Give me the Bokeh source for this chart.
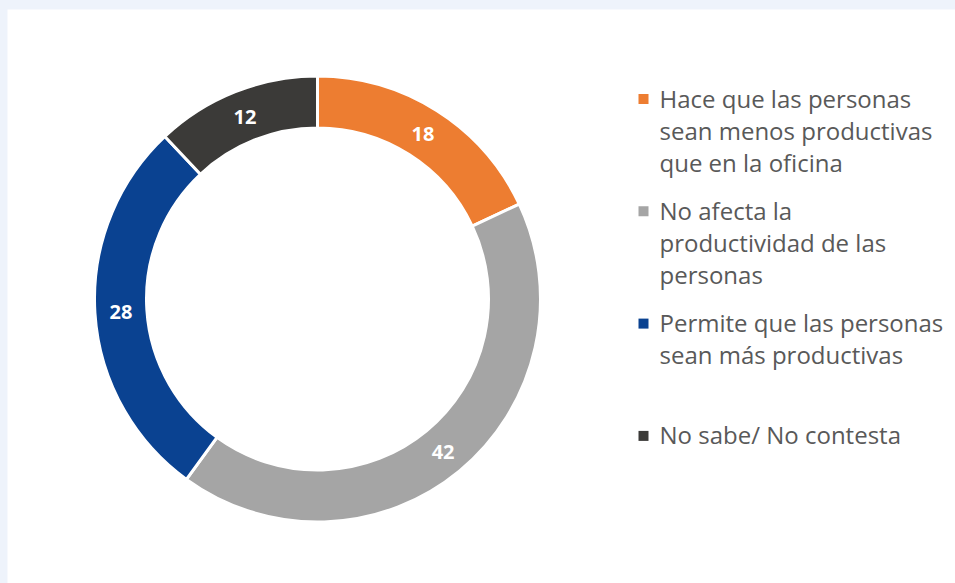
import math
from bokeh.plotting import figure
from bokeh.models import Range1d, ColumnDataSource
from bokeh.core.properties import value
from bokeh.embed import file_html
from bokeh.resources import INLINE

categories = [
    "Hace que las personas\nsean menos productivas\nque en la oficina",
    "No afecta la\nproductividad de las\npersonas",
    "Permite que las personas\nsean más productivas",
    "No sabe/ No contesta",
]
values = [18, 42, 28, 12]
colors = ["#ED7D31", "#A5A5A5", "#0A4291", "#3B3A38"]

W, H = 948, 574
OX, OY = 7, 9  # canvas offset on page

p = figure(width=W, height=H, output_backend="svg", toolbar_location=None,
           x_range=Range1d(OX, OX + W), y_range=Range1d(0, H),
           min_border=0, outline_line_color=None,
           background_fill_color="white", border_fill_color="white")
p.axis.visible = False
p.grid.visible = False

def sy(y):  # screen y -> data y
    return (OY + H) - y

cx, cy = 317, sy(298.5)
r_out, r_in = 223, 171
total = sum(values)
starts, ends, mids = [], [], []
cum = 0
for v in values:
    a0 = math.pi / 2 - 2 * math.pi * cum / total
    cum += v
    a1 = math.pi / 2 - 2 * math.pi * cum / total
    starts.append(a0)
    ends.append(a1)
    mids.append((a0 + a1) / 2)

src = ColumnDataSource(dict(start=starts, end=ends, color=colors,
                            x=[cx] * len(values), y=[cy] * len(values)))
p.annular_wedge(x="x", y="y", inner_radius=r_in, outer_radius=r_out,
                start_angle="start", end_angle="end", direction="clock",
                fill_color="color", line_color="white", line_width=3, source=src)

r_mid = (r_in + r_out) / 2
lx = [cx + r_mid * math.cos(a) for a in mids]
ly = [cy + r_mid * math.sin(a) - 1 for a in mids]
p.text(x=lx, y=ly, text=[str(v) for v in values], text_color="white",
       text_font=value("Open Sans"), text_font_style="bold",
       text_font_size="20px", text_align="center", text_baseline="middle")

# legend
leg_x, leg_y0, leg_step, line_h = 643, 97.5, 112.3, 32
mx, my, tx, ty, tt = [], [], [], [], []
for i, lab in enumerate(categories):
    y0 = leg_y0 + i * leg_step
    mx.append(leg_x)
    my.append(sy(y0 + 1))
    for j, line in enumerate(lab.split("\n")):
        tx.append(659)
        ty.append(sy(y0 + j * line_h))
        tt.append(line)
p.scatter(x=mx, y=my, marker="square", size=10, fill_color=colors, line_color=None)
p.text(x=tx, y=ty, text=tt, text_color="#595959", text_font=value("Open Sans"),
       text_font_size="24px", text_align="left", text_baseline="middle")

html = file_html(p, INLINE)
html = html.replace("<head>", "<head><style>html{background:#eef3fb;overflow:hidden}body{margin:%dpx 0 0 %dpx !important;padding:0;background:#eef3fb;overflow:hidden}</style>" % (OY, OX), 1)
open("out.html", "w").write(html)
